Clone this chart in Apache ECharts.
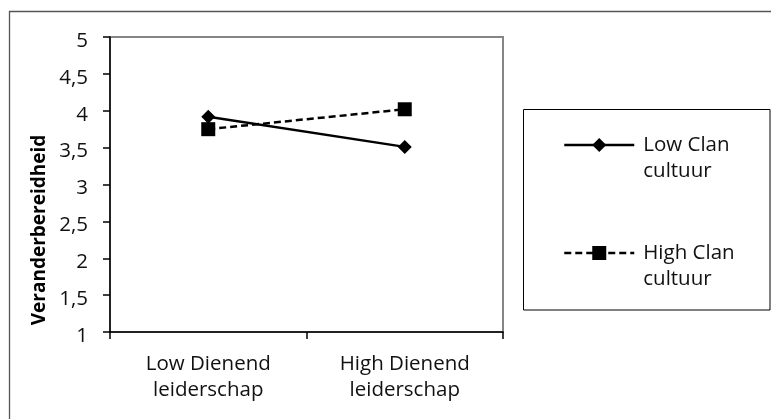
<!DOCTYPE html>
<html>
<head>
<meta charset="utf-8">
<script src="https://cdn.jsdelivr.net/npm/echarts@6/dist/echarts.min.js"></script>
<style>
  html, body { margin: 0; padding: 0; background: #fff; }
  #chart { width: 771px; height: 419px; }
</style>
</head>
<body>
<div id="chart"></div>
<script>
// Categories on the x axis (two levels of servant leadership)
const categories = ['Low Dienend\nleiderschap', 'High Dienend\nleiderschap'];
// Mean readiness for change per clan culture group
const lowClanValues = [3.92, 3.51];
const highClanValues = [3.75, 4.02];
const seriesNames = ['Low Clan\ncultuur', 'High Clan\ncultuur'];
const yAxisTitle = 'Veranderbereidheid';
// Y axis range and step
const yMin = 1, yMax = 5, yStep = 0.5;

const FONT = '"Open Sans", "Noto Sans", sans-serif';
const chart = echarts.init(document.getElementById('chart'), null, { renderer: 'canvas' });

chart.setOption({
  animation: false,
  backgroundColor: '#fff',
  grid: {
    left: 110, top: 37, right: 268, bottom: 87,
    show: true, borderColor: '#868686', borderWidth: 2, backgroundColor: 'transparent'
  },
  xAxis: {
    type: 'category',
    data: categories,
    boundaryGap: true,
    axisLine: { show: true, lineStyle: { color: '#000', width: 1.5 } },
    axisTick: { show: true, inside: false, length: 7, alignWithLabel: false, lineStyle: { color: '#000', width: 1.5 } },
    axisLabel: { color: '#111', fontFamily: FONT, fontSize: 20.5, lineHeight: 26, margin: 19 },
    splitLine: { show: false }
  },
  yAxis: {
    type: 'value',
    min: yMin, max: yMax, interval: yStep,
    axisLine: { show: true, lineStyle: { color: '#000', width: 1.5 } },
    axisTick: { show: true, inside: false, length: 7, lineStyle: { color: '#000', width: 1.5 } },
    axisLabel: {
      color: '#111', fontFamily: FONT, fontSize: 20.5, margin: 22,
      verticalAlign: 'top', lineHeight: 8,
      formatter: v => String(v).replace('.', ',')
    },
    splitLine: { show: false }
  },
  legend: {
    orient: 'vertical',
    left: 563, top: 106,
    padding: 0,
    itemGap: 30,
    itemWidth: 70, itemHeight: 17.5,
    data: seriesNames,
    lineStyle: { width: 2.5 },
    // a leading blank line keeps the first text line level with the icon
    formatter: name => ' \n' + name,
    textStyle: { color: '#111', fontFamily: FONT, fontSize: 20.5, lineHeight: 26, padding: [0, 0, 0, 4] }
  },
  series: [
    {
      name: seriesNames[0],
      type: 'line',
      data: lowClanValues,
      symbol: 'diamond',
      symbolSize: [14, 14],
      itemStyle: { color: '#000' },
      lineStyle: { color: '#000', width: 2.5, type: 'solid' },
      z: 2
    },
    {
      name: seriesNames[1],
      type: 'line',
      data: highClanValues,
      symbol: 'rect',
      symbolSize: [14, 14],
      itemStyle: { color: '#000' },
      lineStyle: { color: '#000', width: 2.5, type: [7, 4] },
      z: 3
    }
  ],
  graphic: [
    // chart frame (continues beyond the right and bottom edges)
    {
      type: 'rect', z: -1, silent: true,
      shape: { x: 9.5, y: 11.5, width: 900, height: 600 },
      style: { fill: 'none', stroke: '#555', lineWidth: 1.3 }
    },
    // legend frame
    {
      type: 'rect', silent: true,
      shape: { x: 523.5, y: 109.5, width: 246.5, height: 200.5 },
      style: { fill: 'none', stroke: '#000', lineWidth: 1 }
    },
    // y axis title
    {
      type: 'text', silent: true,
      x: 40, y: 230, rotation: Math.PI / 2,
      style: {
        text: yAxisTitle, fill: '#000', font: 'bold 19px ' + FONT,
        textAlign: 'center', textVerticalAlign: 'middle'
      }
    }
  ]
});
</script>
</body>
</html>
